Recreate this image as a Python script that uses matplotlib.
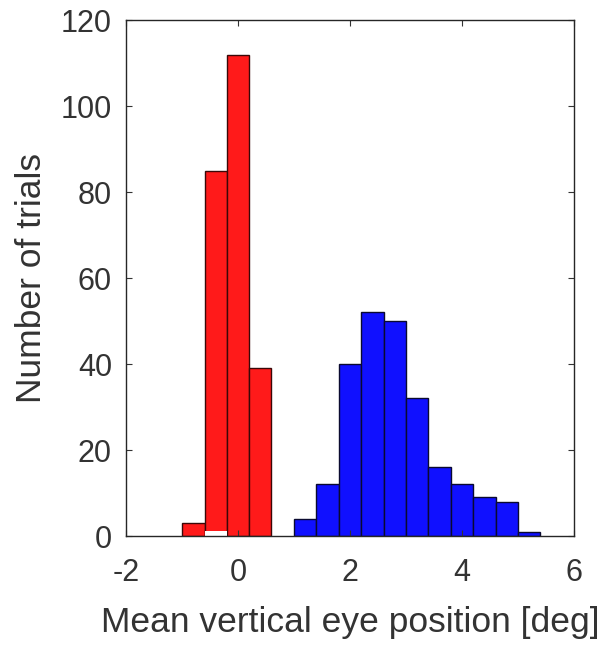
import numpy as np
import matplotlib
matplotlib.use('Agg')
import matplotlib.pyplot as plt

# ---------- data ----------
red_edges = [-0.99, -0.595, -0.2, 0.195, 0.59]
red_counts = [3, 85, 112, 39]

blue_edges = [1.0, 1.4, 1.8, 2.2, 2.6, 3.0, 3.4, 3.8, 4.2, 4.6, 5.0, 5.4]
blue_counts = [4, 12, 40, 52, 50, 32, 16, 12, 9, 8, 1]

# small white sliver at the base of the second red bar
white_edges = [-0.595, -0.2]
white_counts = [1.2]

xticks = [-2, 0, 2, 4, 6]
yticks = [0, 20, 40, 60, 80, 100, 120]

plt.rcParams['font.family'] = ['Liberation Sans', 'DejaVu Sans']
plt.rcParams['axes.unicode_minus'] = False  # matlab style "-2"

fig = plt.figure(figsize=(6.08, 6.49), dpi=100)
ax = fig.add_axes([0.207, 0.174, 0.737, 0.795])

def draw_hist(edges, counts, face, edge='#2a0a0a', lw=1.0):
    e = np.array(edges)
    ax.bar(e[:-1], counts, width=np.diff(e), align='edge',
           color=face, edgecolor=edge, linewidth=lw)

draw_hist(red_edges, red_counts, '#ff1a1a', edge='#3a0808')
draw_hist(blue_edges, blue_counts, '#1010ff', edge='#0a0a30')
draw_hist(white_edges, white_counts, 'white', edge='none', lw=0)

ax.set_xlim(-2, 6)
ax.set_ylim(0, 120)
ax.set_xticks(xticks)
ax.set_yticks(yticks)
ax.tick_params(direction='in', top=True, right=True, length=4,
               labelsize=22, colors='#333333')
ax.tick_params(axis='x', pad=16)
ax.tick_params(axis='y', pad=10)
for s in ax.spines.values():
    s.set_color('#262626')
    s.set_linewidth(1.0)

ax.set_xlabel('Mean vertical eye position [deg]', fontsize=25.5, color='#333333', labelpad=13)
ax.set_ylabel('Number of trials', fontsize=25.5, color='#333333', labelpad=9)

fig.savefig('out.png', dpi=100)
